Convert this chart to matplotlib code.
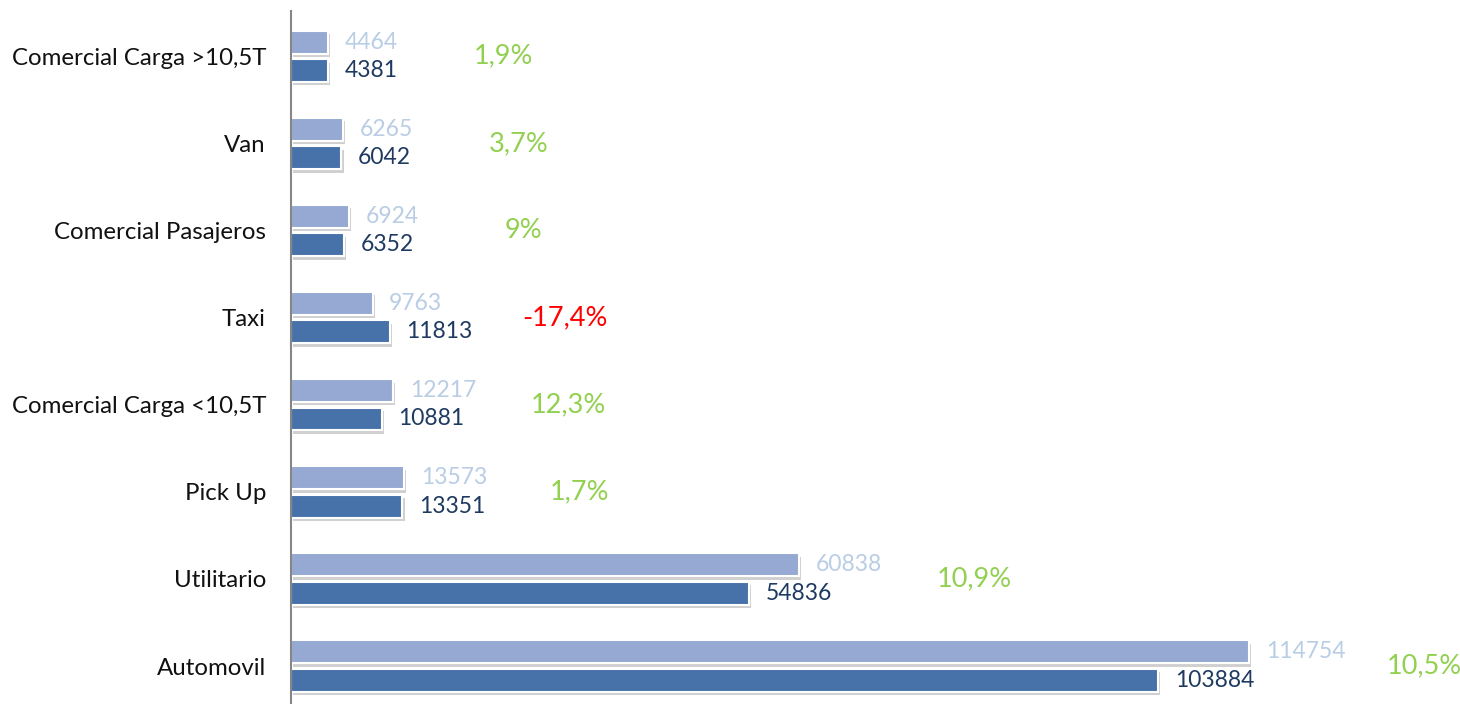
import matplotlib
matplotlib.use("Agg")
import matplotlib.pyplot as plt
import matplotlib.patheffects as pe
import numpy as np

categories = ["Automovil", "Utilitario", "Pick Up", "Comercial Carga <10,5T",
              "Taxi", "Comercial Pasajeros", "Van", "Comercial Carga >10,5T"]
values_light = [114754, 60838, 13573, 12217, 9763, 6924, 6265, 4464]
values_dark = [103884, 54836, 13351, 10881, 11813, 6352, 6042, 4381]
pct_labels = ["10,5%", "10,9%", "1,7%", "12,3%", "-17,4%", "9%", "3,7%", "1,9%"]

FONT = ["Lato", "DejaVu Sans"]
plt.rcParams["font.family"] = FONT

W, H = 1460, 704
fig = plt.figure(figsize=(W / 100, H / 100), dpi=100)
ax = fig.add_axes([291 / W, 0, 1 - 291 / W, 693 / H])

c_light = "#95A9D2"
c_dark = "#4672A9"
t_light = "#B9CDE5"
t_dark = "#1F3A60"
c_green = "#92D050"
c_red = "#FF0000"

y = np.arange(len(categories))
h = 0.263
d = 0.163
shadow = [pe.SimplePatchShadow(offset=(1.5, -2.5), shadow_rgbFace="#8a8a8a", alpha=0.4), pe.Normal()]

bl = ax.barh(y + d, values_light, height=h, color=c_light, edgecolor="white", linewidth=1.5)
bd = ax.barh(y - d, values_dark, height=h, color=c_dark, edgecolor="white", linewidth=1.5)
for p in list(bl) + list(bd):
    p.set_path_effects(shadow)

for yi, v in zip(y, values_light):
    ax.annotate(str(v), (v, yi + d), xytext=(12, 0), textcoords="offset points",
                va="center", ha="left", fontsize=16.5, color=t_light)
for yi, v in zip(y, values_dark):
    ax.annotate(str(v), (v, yi - d), xytext=(12, 0), textcoords="offset points",
                va="center", ha="left", fontsize=16.5, color=t_dark)
for yi, a, b, s in zip(y, values_light, values_dark, pct_labels):
    col = c_red if s.startswith("-") else c_green
    ax.annotate(s, (max(a, b), yi), xytext=(126, 0), textcoords="offset points",
                va="center", ha="center", fontsize=19.5, color=col)

ax.set_xlim(0, (W - 291) / 958 * 114754)
ax.set_ylim(-0.435, 7.52)
ax.set_yticks(y)
ax.set_yticklabels(categories, fontsize=17.3, color="#111111")
ax.tick_params(axis="y", length=0, pad=18)
ax.set_xticks([])
for s in ["top", "right", "bottom"]:
    ax.spines[s].set_visible(False)
ax.spines["left"].set_color("#868686")
ax.spines["left"].set_linewidth(1.5)

fig.savefig("out.png", dpi=100, facecolor="white")
